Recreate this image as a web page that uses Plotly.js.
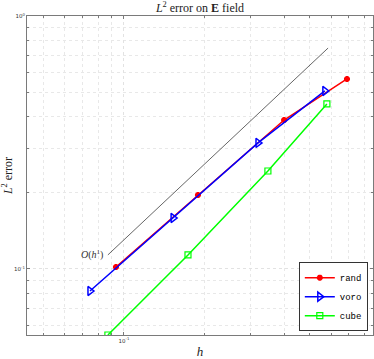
<!DOCTYPE html>
<html>
<head>
<meta charset="utf-8">
<script src="https://cdn.plot.ly/plotly-3.0.1.min.js"></script>
<style>
  html, body { margin: 0; padding: 0; background: #fff; }
  #chart { width: 374px; height: 359px; }
</style>
</head>
<body>
<div id="chart"></div>
<script>
// mesh size h and L2 error for each mesh family
var hRand = [0.0933, 0.1897, 0.3998, 0.689];
var errRand = [0.1018, 0.196, 0.388, 0.5636];

var hVoro = [0.0745, 0.153, 0.319, 0.569];
var errVoro = [0.0818, 0.159, 0.315, 0.5056];

var hCube = [0.0870, 0.174, 0.3475, 0.579];
var errCube = [0.0548, 0.1136, 0.2439, 0.449];

// first order reference slope
var hRef = [0.0870, 0.585];
var errRef = [0.1136, 0.747];

var xMinor = [0.05, 0.06, 0.07, 0.08, 0.09, 0.2, 0.3, 0.4, 0.5, 0.6, 0.7, 0.8];
var yMinor = [0.06, 0.07, 0.08, 0.09, 0.2, 0.3, 0.4, 0.5, 0.6, 0.7, 0.8, 0.9];

var serif = 'Liberation Serif, DejaVu Serif, serif';

var Rand = {
    type: 'scatter',
    x: hRand,
    y: errRand,
    mode: 'lines+markers',
    name: 'rand',
    line: {color: 'rgb(255,0,0)', width: 1.5},
    marker: {color: 'rgb(255,0,0)', size: 5, symbol: 'asterisk-open',
             line: {color: 'rgb(255,0,0)', width: 2}}
}

var Voro = {
    type: 'scatter',
    x: hVoro,
    y: errVoro,
    mode: 'lines+markers',
    name: 'voro',
    line: {color: 'rgb(0,0,255)', width: 1.5},
    marker: {color: 'rgb(0,0,255)', size: 8, symbol: 'triangle-right-open',
             line: {color: 'rgb(0,0,255)', width: 1.5}}
}

var Cube = {
    type: 'scatter',
    x: hCube,
    y: errCube,
    mode: 'lines+markers',
    name: 'cube',
    line: {color: 'rgb(0,255,0)', width: 1.5},
    marker: {color: 'rgb(0,255,0)', size: 6, symbol: 'square-open',
             line: {color: 'rgb(0,255,0)', width: 1.2}}
}

var Ref = {
    type: 'scatter',
    x: hRef,
    y: errRef,
    mode: 'lines',
    showlegend: false,
    hoverinfo: 'skip',
    line: {color: '#555', width: 0.9}
}

var data = [Ref, Rand, Voro, Cube]

var axisCommon = {
    type: 'log',
    showline: true,
    mirror: 'ticks',
    linecolor: '#7a7a7a',
    linewidth: 1,
    ticks: 'inside',
    ticklen: 3,
    tickcolor: '#7a7a7a',
    tickmode: 'array',
    tickfont: {family: 'DejaVu Sans, sans-serif', size: 5.5, color: '#333'},
    showgrid: true,
    gridcolor: '#e2e2e2',
    griddash: 'dot',
    gridwidth: 1,
    zeroline: false
}

var layout = {
    width: 374,
    height: 359,
    margin: {l: 27, r: 1, t: 16, b: 24},
    paper_bgcolor: '#fff',
    plot_bgcolor: '#fff',
    title: {
        text: '<i>L</i><sup>2</sup> error on <b>E</b> field',
        font: {family: serif, size: 12, color: '#222'},
        x: 0.5, xref: 'paper',
        y: 0.978, yref: 'container', yanchor: 'middle'
    },
    xaxis: Object.assign({}, axisCommon, {
        range: [Math.log10(0.0432), Math.log10(0.863)],
        tickvals: [0.1],
        ticktext: ['10<sup>-1</sup>'],
        minor: {tickmode: 'array', tickvals: xMinor, ticks: 'inside', ticklen: 2,
                tickcolor: '#7a7a7a', showgrid: true, gridcolor: '#e8e8e8', griddash: 'dot'},
        title: {text: '<i>h</i>', font: {family: serif, size: 13, color: '#222'}, standoff: 7}
    }),
    yaxis: Object.assign({}, axisCommon, {
        range: [Math.log10(0.0548), 0],
        tickvals: [0.1, 1],
        ticktext: ['10<sup>-1</sup>', '10<sup>0</sup>'],
        minor: {tickmode: 'array', tickvals: yMinor, ticks: 'inside', ticklen: 2,
                tickcolor: '#7a7a7a', showgrid: true, gridcolor: '#e8e8e8', griddash: 'dot'},
        title: {text: '<i>L</i><sup>2</sup> error', font: {family: serif, size: 12, color: '#222'}, standoff: 4}
    }),
    showlegend: true,
    legend: {
        x: 0.985, xanchor: 'right',
        y: 0.012, yanchor: 'bottom',
        bgcolor: '#fff',
        bordercolor: '#333',
        borderwidth: 1,
        font: {family: 'Liberation Mono, DejaVu Sans Mono, monospace', size: 9, color: '#000'},
        itemwidth: 30,
        tracegroupgap: 0
    },
    annotations: [{
        x: Math.log10(0.0758), y: Math.log10(0.1136),
        xref: 'x', yref: 'y',
        text: '<i>O</i>(<i>h</i><sup>1</sup>)',
        showarrow: false,
        font: {family: serif, size: 10, color: '#333'}
    }]
}

Plotly.newPlot('chart', data, layout, {displayModeBar: false, staticPlot: true});
</script>
</body>
</html>
